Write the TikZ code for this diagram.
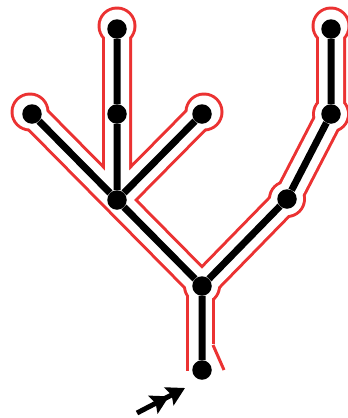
\documentclass[tikz,border=0pt]{standalone}
\usetikzlibrary{arrows.meta}
\definecolor{outl}{RGB}{235,50,50}
\newcommand\outlinepass[5]{%
  % #1 colour, #2 band width, #3 trunk width, #4 bump radius, #5 leaf radius
  \draw[#1,line width=#2pt,line cap=butt,line join=miter]
    (pB) -- (pD)  (pE) -- (pA)  (pB) -- (pF)  (pA) -- (pG) -- (pH) -- (pI);
  \draw[#1,line width=#3pt] (trtop) -- (trbot);
  \fill[#1] (pA) circle (#4pt) (pG) circle (#4pt) (pH) circle (#4pt);
  \fill[#1] (dL) circle (#5pt) (eL) circle (#5pt) (fL) circle (#5pt) (iL) circle (#5pt);
}
\begin{document}
\begin{tikzpicture}[x=1pt,y=-1pt,
  dotnode/.style={circle,fill=black,inner sep=0pt,minimum size=19.5pt},
  treeedge/.style={line width=7pt,black},
  outline/.style={outl,line width=3pt}]
\useasboundingbox (0,0) rectangle (348,418);
% positions
\coordinate (pR) at (202,370);
\coordinate (pA) at (202,286);
\coordinate (pB) at (117,200);
\coordinate (pC) at (117,114);
\coordinate (pD) at (117,29);
\coordinate (pE) at (32,114);
\coordinate (pF) at (202,114);
\coordinate (pG) at (287,199);
\coordinate (pH) at (331,114);
\coordinate (pI) at (331,29);
% helper points for the outline
\coordinate (dL) at (117,26);
\coordinate (eL) at (30,112);
\coordinate (fL) at (204,112);
\coordinate (iL) at (331,26);
\coordinate (trtop) at (200,286);
\coordinate (trbot) at (200,385);
\coordinate (cut1) at (213,345);
\coordinate (cut2) at (224,370);
% red outline
\begin{scope}
  \clip (0,0) rectangle (348,370);
  \outlinepass{outl}{30}{29}{19}{19.5}
  \outlinepass{white}{24}{23}{16}{16.5}
  \fill[white] (210,344) rectangle (217,371);
\end{scope}
\draw[outline] (cut1) -- (cut2);
% tree vertices
\node[dotnode] (r) at (pR) {};
\node[dotnode] (a) at (pA) {};
\node[dotnode] (b) at (pB) {};
\node[dotnode] (c) at (pC) {};
\node[dotnode] (d) at (pD) {};
\node[dotnode] (e) at (pE) {};
\node[dotnode] (f) at (pF) {};
\node[dotnode] (g) at (pG) {};
\node[dotnode] (h) at (pH) {};
\node[dotnode] (i) at (pI) {};
% tree edges
\draw[treeedge] (r) -- (a) (a) -- (b) (b) -- (c) (c) -- (d) (b) -- (e)
  (b) -- (f) (a) -- (g) (g) -- (h) (h) -- (i);
% arrow
\coordinate (arrtail) at (137,413);
\coordinate (arrtip) at (185,388);
\draw[line width=5pt,-{Stealth[length=18pt,width=20pt,inset=3pt]Stealth[length=18pt,width=20pt,inset=3pt]}]
  (arrtail) -- (arrtip);
\end{tikzpicture}
\end{document}
